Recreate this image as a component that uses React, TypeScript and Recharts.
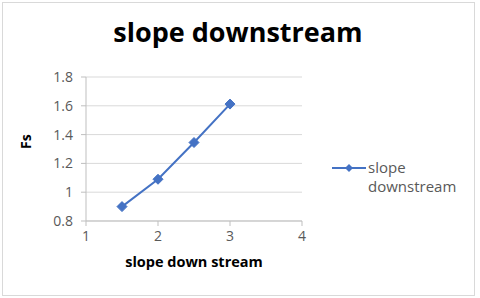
import { LineChart, Line, XAxis, YAxis, CartesianGrid } from 'recharts';

const slopeValues = [1.5, 2, 2.5, 3];
const fsValues = [0.9, 1.09, 1.345, 1.612];
const xTicks = [1, 2, 3, 4];
const yTicks = [0.8, 1.0, 1.2, 1.4, 1.6, 1.8];

const seriesName = 'slope downstream';
const blue = '#4472C4';
const font = '"Open Sans", "Noto Sans", sans-serif';

const data = slopeValues.map((x, i) => ({ x, fs: fsValues[i] }));

const Diamond = (props: any) => {
    const { cx, cy } = props;
    if (cx == null || cy == null) return null;
    const r = 5;
    return <polygon points={`${cx},${cy - r} ${cx + r},${cy} ${cx},${cy + r} ${cx - r},${cy}`} fill={blue} stroke={blue} />;
};

// legend drawn by hand, recharts' Legend eats plot space
const LegendBox = () => (
    <div style={{ position: 'absolute', left: 332, top: 158, display: 'flex', alignItems: 'flex-start', fontFamily: font, fontSize: 15, color: '#595959', lineHeight: '19px' }}>
        <svg width={36} height={19}>
            <line x1={0} y1={10} x2={34} y2={10} stroke={blue} strokeWidth={2} />
            <polygon points="17,6 21,10 17,14 13,10" fill={blue} />
        </svg>
        <div>
            <div>{seriesName.split(' ')[0]}</div>
            <div>{seriesName.split(' ')[1]}</div>
        </div>
    </div>
);

export default function App() {
    return (
        <div style={{ position: 'absolute', left: 0, top: 0, width: 480, height: 298, background: '#fff' }}>
            <div style={{ position: 'absolute', left: 2, top: 2, width: 471, height: 292, border: '1px solid #d9d9d9' }} />
            <div style={{ position: 'absolute', left: 0, top: 13, width: 476, textAlign: 'center', fontFamily: font, fontWeight: 'bold', fontSize: 27, color: '#000' }}>
                slope downstream
            </div>
            <div style={{ position: 'absolute', left: 0, top: 0 }}>
                <LineChart width={480} height={298} data={data} margin={{ top: 77, right: 178, bottom: 0, left: 0 }}>
                    <CartesianGrid vertical={false} stroke="#d9d9d9" strokeWidth={1} />
                    <XAxis
                        dataKey="x"
                        type="number"
                        domain={[1, 4]}
                        ticks={xTicks}
                        height={77}
                        stroke="#bfbfbf"
                        tickSize={5}
                        tickMargin={5}
                        tick={{ fill: '#595959', fontSize: 14, fontFamily: font }}
                        label={{ value: 'slope down stream', position: 'insideTop', offset: 36, fill: '#000', fontSize: 14.5, fontWeight: 'bold', fontFamily: font }}
                    />
                    <YAxis
                        type="number"
                        domain={[0.8, 1.8]}
                        ticks={yTicks}
                        width={86}
                        stroke="#bfbfbf"
                        tickSize={5}
                        tickMargin={8}
                        tickFormatter={(v: number) => String(Number(v.toFixed(1)))}
                        tick={{ fill: '#595959', fontSize: 14, fontFamily: font }}
                        label={{ value: 'Fs', angle: -90, position: 'insideLeft', offset: 26, fill: '#000', fontSize: 14, fontWeight: 'bold', fontFamily: font }}
                    />
                    <Line
                        type="linear"
                        dataKey="fs"
                        name={seriesName}
                        stroke={blue}
                        strokeWidth={2}
                        dot={<Diamond />}
                        activeDot={false}
                        isAnimationActive={false}
                    />
                </LineChart>
            </div>
            <LegendBox />
        </div>
    );
}
